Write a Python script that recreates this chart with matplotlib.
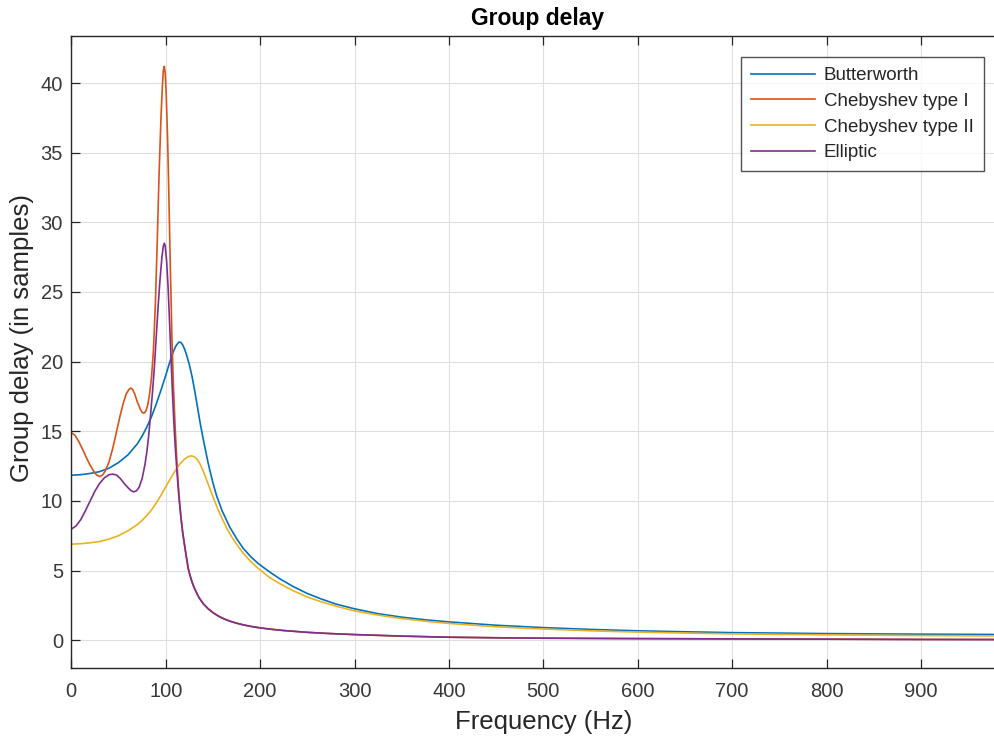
import matplotlib
matplotlib.use("Agg")
import matplotlib.pyplot as plt

# ---- data (Hz, group delay in samples) ----
butter_f = [0, 10, 20, 30, 40, 50, 60, 70, 75, 80, 85, 90, 95, 100, 104, 108, 111, 114, 116, 118,
            120, 122, 125, 128, 131, 134, 137, 140, 145, 150, 154, 160, 168, 175, 182, 190, 198,
            210, 221, 235, 250, 265, 280, 300, 325, 350, 375, 400, 450, 500, 550, 600, 650, 700,
            800, 900, 1000]
butter_y = [11.84, 11.88, 11.97, 12.1, 12.35, 12.75, 13.3, 14.1, 14.65, 15.3, 16.05, 16.95, 17.95,
            19.0, 19.9, 20.7, 21.15, 21.4, 21.38, 21.2, 20.9, 20.5, 19.8, 18.9, 17.8, 16.6, 15.4,
            14.35, 12.7, 11.3, 10.35, 9.25, 8.1, 7.3, 6.6, 6.0, 5.5, 4.9, 4.4, 3.85, 3.35, 2.95,
            2.6, 2.25, 1.9, 1.65, 1.46, 1.31, 1.07, 0.9, 0.77, 0.67, 0.6, 0.54, 0.47, 0.43, 0.4]

cheby1_f = [0, 4, 8, 12, 16, 20, 24, 27, 30, 33, 36, 40, 44, 48, 52, 55, 58, 61, 63, 65, 67, 70,
            73, 75, 77, 79, 81, 83, 85, 87, 89, 91, 93, 95, 96.5, 97.5, 98.5, 99.5, 100.5, 102,
            103.5, 105, 106.5, 108, 110, 112, 114, 116, 118, 120, 122, 124, 126, 128, 130, 132,
            134, 136, 140, 145, 150, 155, 160, 165, 170, 175, 182, 190, 200, 212, 225, 250, 275,
            300, 350, 400, 450, 500, 600, 700, 800, 900, 1000]
cheby1_y = [14.9, 14.7, 14.25, 13.7, 13.1, 12.55, 12.1, 11.85, 11.75, 11.85, 12.15, 12.8, 13.8,
            15.0, 16.2, 17.0, 17.65, 18.0, 18.1, 18.0, 17.7, 17.1, 16.6, 16.35, 16.3, 16.45, 16.9,
            17.7, 18.9, 20.8, 24.0, 28.5, 33.5, 37.5, 39.8, 40.9, 41.2, 40.7, 39.3, 36.0, 31.5,
            26.5, 22.0, 18.6, 15.3, 12.6, 10.5, 8.9, 7.7, 6.8, 5.9, 5.1, 4.6, 4.15, 3.8, 3.5,
            3.22, 2.98, 2.6, 2.25, 1.98, 1.76, 1.58, 1.44, 1.32, 1.22, 1.1, 0.99, 0.88, 0.78,
            0.69, 0.56, 0.47, 0.4, 0.29, 0.21, 0.17, 0.14, 0.11, 0.09, 0.07, 0.05, 0.04]

cheby2_f = [0, 10, 20, 30, 40, 50, 60, 70, 75, 80, 85, 90, 95, 100, 105, 110, 115, 120, 124, 127,
            130, 133, 136, 140, 145, 150, 155, 160, 165, 170, 175, 182, 190, 198, 210, 221, 235,
            250, 265, 280, 300, 325, 350, 375, 400, 450, 500, 550, 600, 650, 700, 800, 900, 1000]
cheby2_y = [6.89, 6.93, 6.99, 7.08, 7.25, 7.5, 7.85, 8.3, 8.6, 8.95, 9.35, 9.85, 10.4, 11.0, 11.6,
            12.15, 12.65, 13.0, 13.18, 13.23, 13.18, 13.0, 12.7, 12.1, 11.2, 10.3, 9.45, 8.7, 8.0,
            7.4, 6.9, 6.25, 5.65, 5.15, 4.5, 4.05, 3.55, 3.1, 2.75, 2.45, 2.1, 1.8, 1.55, 1.36,
            1.2, 0.96, 0.8, 0.67, 0.58, 0.51, 0.45, 0.38, 0.33, 0.3]

ellip_f = [0, 5, 10, 15, 20, 25, 30, 35, 40, 44, 48, 52, 56, 60, 63, 66, 69, 72, 75, 78, 80, 82,
           84, 86, 88, 90, 92, 94, 96, 97.5, 98.5, 99.5, 101, 102.5, 104, 105.5, 107, 108.5, 110,
           112, 114, 116, 118, 120, 122, 124, 126, 128, 130, 132, 134, 136, 140, 145, 150, 155,
           160, 165, 170, 175, 182, 190, 200, 212, 225, 250, 275, 300, 350, 400, 450, 500, 600,
           700, 800, 900, 1000]
ellip_y = [7.97, 8.2, 8.65, 9.3, 10.0, 10.7, 11.25, 11.65, 11.88, 11.92, 11.85, 11.6, 11.25, 10.95,
           10.75, 10.65, 10.72, 11.0, 11.6, 12.6, 13.5, 14.7, 16.2, 17.8, 19.6, 21.8, 24.0, 25.9,
           27.5, 28.3, 28.5, 28.3, 27.2, 25.4, 23.0, 20.5, 18.0, 15.8, 14.0, 12.0, 10.3, 8.9,
           7.75, 6.8, 5.95, 5.1, 4.6, 4.15, 3.8, 3.5, 3.22, 2.98, 2.6, 2.25, 1.98, 1.76, 1.58,
           1.44, 1.32, 1.22, 1.1, 0.99, 0.88, 0.78, 0.69, 0.56, 0.47, 0.4, 0.29, 0.21, 0.17,
           0.14, 0.11, 0.09, 0.07, 0.05, 0.04]

labels = ["Butterworth", "Chebyshev type I", "Chebyshev type II", "Elliptic"]
colors = ["#0072BD", "#D95319", "#EDB120", "#7E2F8E"]

xticks = list(range(0, 1000, 100))
yticks = list(range(0, 41, 5))

plt.rcParams['font.family'] = ['Liberation Sans', 'DejaVu Sans']

W, H = 994, 737
fig = plt.figure(figsize=(W / 100, H / 100), dpi=100)
# axes frame in pixels: left 71.3, top 35.7, bottom 668, x-span 1000 Hz = 944 px
left, top, bottom, xspan = 71.3, 35.7, 668.0, 944.0
ah = bottom - top
ax = fig.add_axes([left / W, (H - bottom) / H, xspan / W, ah / H])

series = [(butter_f, butter_y), (cheby1_f, cheby1_y), (cheby2_f, cheby2_y), (ellip_f, ellip_y)]
for (f, y), lab, c in zip(series, labels, colors):
    ax.plot(f, y, color=c, lw=1.2, label=lab, solid_joinstyle='round')

ax.set_xlim(0, 1000)
ax.set_ylim(-2.0, 43.4)
ax.set_xticks(xticks)
ax.set_yticks(yticks)
ax.grid(True, color="#DFDFDF", lw=0.8)
ax.set_axisbelow(True)
ax.tick_params(direction='in', length=6.5, width=0.9, colors="#262626", labelsize=14.5,
               top=True, right=False)
ax.tick_params(axis='x', pad=10)
ax.tick_params(axis='y', pad=6)
for lab in ax.get_xticklabels() + ax.get_yticklabels():
    lab.set_color("#383838")
for s in ax.spines.values():
    s.set_color("#262626")
    s.set_linewidth(1.0)

ax.set_xlabel("Frequency (Hz)", fontsize=18.5, color="#262626", va='center')
ax.xaxis.set_label_coords(0.5, (bottom - 722) / ah)
ax.set_ylabel("Group delay (in samples)", fontsize=18.5, color="#262626", va='center')
ax.yaxis.set_label_coords((22.5 - left) / xspan, (bottom - 338) / ah)
ax.set_title("Group delay", fontsize=16.5, fontweight='bold', color="#000000",
             x=(537.5 - left) / xspan, y=1 + (top - 18) / ah, va='center', pad=0)

leg = ax.legend(loc='upper left', bbox_to_anchor=((741 - left) / xspan, 1 - (57 - top) / ah),
                fontsize=13.5, frameon=True, fancybox=False, handlelength=3.4, borderpad=0.55,
                labelspacing=0.45, handletextpad=0.45, borderaxespad=0.0)
leg.get_frame().set_edgecolor("#262626")
leg.get_frame().set_linewidth(1.0)
for t in leg.get_texts():
    t.set_color("#262626")

fig.savefig("out.png", dpi=100)
